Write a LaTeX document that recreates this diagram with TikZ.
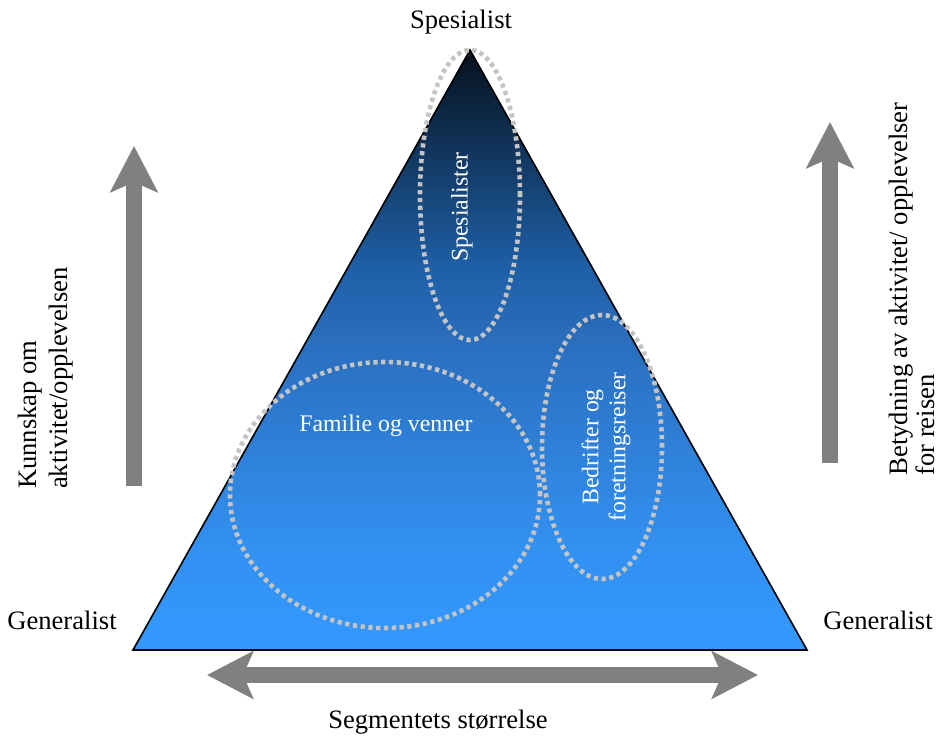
\documentclass[tikz,border=0pt]{standalone}
\usepackage{fontspec}
\setmainfont{Liberation Serif}
\usepackage{tikz}
\definecolor{pyrtop}{HTML}{06111C}
\definecolor{pyrup}{HTML}{1E5FA6}
\definecolor{pyrmid}{HTML}{2B70C0}
\definecolor{pyrlow}{HTML}{3290F0}
\definecolor{pyrbot}{HTML}{3399FF}
\definecolor{dotgray}{HTML}{C4C4C4}
\pgfdeclareverticalshading{pyrshade}{100bp}{color(0bp)=(pyrbot); color(25bp)=(pyrbot); color(34bp)=(pyrlow); color(50bp)=(pyrmid); color(57bp)=(pyrup); color(75bp)=(pyrtop); color(100bp)=(pyrtop)}
\tikzset{
    pyramid/.style={draw=black,line width=0.8pt,shading=pyrshade},
    segment/.style={ellipse,draw=dotgray,line width=2.3pt,dash pattern=on 2.1pt off 1.8pt,inner sep=0pt},
    axistext/.style={font=\fontsize{13.3}{16}\selectfont},
    intext/.style={text=white,font=\fontsize{11.9}{13.5}\selectfont},
    bigarrow/.style={draw=gray,line width=8pt,-{Stealth[length=23pt,width=23.5pt,inset=5pt]}},
    botharrow/.style={draw=gray,line width=8pt,{Stealth[length=23pt,width=23.5pt,inset=5pt]}-{Stealth[length=23pt,width=23.5pt,inset=5pt]}},
}
\usetikzlibrary{shapes,arrows.meta}
\usetikzlibrary{positioning}

\begin{document}
\begin{tikzpicture}[x=0.5pt,y=-0.5pt]
\useasboundingbox (0,0) rectangle (940,740);
\coordinate (apex) at (470,50);
\coordinate (baseL) at (133,650);
\coordinate (baseR) at (807,650);
\draw[pyramid] (apex) -- (baseR) -- (baseL) -- cycle;

\node[segment,minimum width=50pt,minimum height=145pt] (Espec) at (470,195) {};
\node[segment,minimum width=155pt,minimum height=133pt] (Efam) at (385,495) {};
\node[segment,minimum width=60pt,minimum height=132pt] (Ebed) at (602,447) {};
\node[intext,rotate=90] (Tspec) at (462,207) {Spesialister};
\node[intext] (Tfam) at (386,426) {Familie og venner};
\node[intext,rotate=90,align=center] (Tbed) at (606,447) {Bedrifter og\\foretningsreiser};

\node[axistext] (Nspec) at (461,22) {Spesialist};
\node[axistext] (GenL) at (62,620) {Generalist};
\node[axistext] (GenR) at (878,620) {Generalist};
\node[axistext] (Nsize) at (438,722) {Segmentets størrelse};
\node[axistext,rotate=90,align=left,font=\fontsize{13.3}{15.5}\selectfont] (Nknow) at (46,378) {Kunnskap om\\aktivitet/opplevelsen};
\node[axistext,rotate=90,align=left,font=\fontsize{13.3}{13.5}\selectfont] (Nvalue) at (912,289) {Betydning av aktivitet/ opplevelser\\for reisen};

\coordinate (Kbot) at (134,486);
\coordinate (Ktop) at (134,146);
\coordinate (Bbot) at (830,463);
\coordinate (Btop) at (830,122);
\coordinate (Sleft) at (207,675);
\coordinate (Sright) at (758,675);
\draw[bigarrow] (Kbot) -- (Ktop);
\draw[bigarrow] (Bbot) -- (Btop);
\draw[botharrow] (Sleft) -- (Sright);
\end{tikzpicture}
\end{document}
